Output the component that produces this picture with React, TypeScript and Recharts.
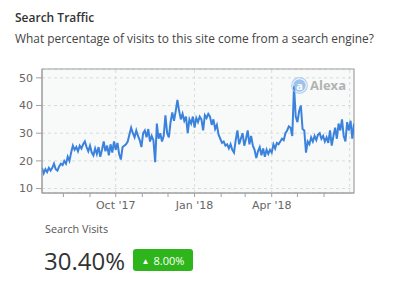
import React from 'react';
import { LineChart, Line, XAxis, YAxis, CartesianGrid, ReferenceLine, ReferenceArea } from 'recharts';

// Day numbers are counted from 2017-07-01 (day 0); one sample every 2 days starting 2017-07-07.
const START_DAY = 6;
const STEP_DAYS = 2;

// Search share (%), one value per 2 days
const searchShare: number[] = [
  17.5, 15.5, 17, 16, 17.5,
  16.5, 17.5, 19, 17, 16.5,
  18, 19, 18.5, 20, 19,
  21.5, 20, 23, 25.5, 24,
  25, 23.5, 25.5, 24.5, 26,
  27, 25, 23.5, 25.5, 23,
  22, 24.5, 22.5, 25, 21.5,
  24, 27, 23.5, 25.5, 22,
  26, 23, 27, 24, 26.5,
  22.5, 20.5, 25, 25.5, 26,
  27, 29.5, 32, 30, 28.5,
  31, 29, 27.5, 25, 30,
  31, 28.5, 31.5, 27, 29,
  27.5, 19.5, 33.5, 28, 30,
  27, 29, 36.5, 30, 28.5,
  34, 37.5, 34.5, 38, 42,
  38, 35, 37, 34.5, 36,
  30, 35, 33.5, 36, 32,
  35.5, 34, 36, 35, 31,
  36.5, 35.5, 37, 36, 33,
  35, 31.5, 33, 29.5, 28,
  26.5, 27, 25.5, 26, 24.5,
  26, 24, 23, 27.5, 31,
  26, 28, 30, 25.5, 28,
  31, 26, 29, 25.5, 24,
  21, 23.5, 25, 22, 24.5,
  21.5, 24, 22.5, 24, 23,
  26, 24.5, 26.5, 26, 27,
  28, 27.5, 30, 31, 32.5,
  32, 29, 47, 36, 34,
  38, 40, 31.5, 31, 23,
  27, 26, 28.5, 27, 29,
  27.5, 29.5, 30, 28, 29,
  27, 28.5, 26.5, 31, 25.5,
  29, 32, 28, 33.5, 31,
  35, 29, 27, 34, 31,
  34.5, 28, 33.5,
];

// Month starts (days since 2017-07-01) used as x ticks
const monthTicks: number[] = [31, 62, 92, 123, 153, 184, 215, 243, 274, 304, 335];
const quarterDays: number[] = [92, 184, 274, 365];
const quarterLabels: Record<number, string> = { 92: "Oct '17", 184: "Jan '18", 274: "Apr '18" };
const yTicks: number[] = [10, 20, 30, 40, 50];

const data = searchShare.map((v, i) => ({ day: START_DAY + i * STEP_DAYS, v }));

const X_MIN = 6;
const X_MAX = 370;
const Y_MIN = 8.4;
const Y_MAX = 53.2;

const font = '"Open Sans", "Noto Sans", sans-serif';
const axisFont = '"DejaVu Sans", Verdana, sans-serif';

export default function App() {
  return (
    <div style={{ position: 'absolute', left: 0, top: 0, width: 403, height: 282, background: '#fff', fontFamily: font }}>
      <div style={{ position: 'absolute', left: 15, top: 9, fontSize: 12, fontWeight: 600, color: '#333', whiteSpace: 'nowrap' }}>Search Traffic</div>
      <div style={{ position: 'absolute', left: 15, top: 30, fontSize: 11.9, color: '#444', whiteSpace: 'nowrap' }}>
        What percentage of visits to this site come from a search engine?
      </div>
      <div style={{ position: 'absolute', left: 0, top: 0 }}>
        <LineChart width={403} height={282} data={data} margin={{ top: 69, right: 49, bottom: 59, left: 0 }}>
          <CartesianGrid vertical={false} stroke="#dadada" strokeDasharray="3 3" fill="#f8fafa" fillOpacity={1} />
          {quarterDays.map((d) => (
            <ReferenceLine key={d} x={d} stroke="#dadada" strokeDasharray="3 3" ifOverflow="extendDomain" />
          ))}
          <XAxis
            dataKey="day"
            type="number"
            domain={[X_MIN, X_MAX]}
            ticks={monthTicks}
            tickFormatter={(d: number) => quarterLabels[d] || ''}
            interval={0}
            height={30}
            tickSize={4}
            tickMargin={4}
            stroke="#a0a0a0"
            tick={{ fill: '#666', fontSize: 11, fontFamily: axisFont }}
            allowDataOverflow
          />
          <YAxis
            type="number"
            domain={[Y_MIN, Y_MAX]}
            ticks={yTicks}
            interval={0}
            width={42}
            tickSize={6}
            tickMargin={3}
            stroke="#a0a0a0"
            tick={{ fill: '#666', fontSize: 11, fontFamily: axisFont }}
            allowDataOverflow
          />
          <ReferenceArea x1={X_MIN} x2={X_MAX} y1={Y_MIN} y2={Y_MAX} fill="none" stroke="#a0a0a0" strokeWidth={1.2} />
          <Line type="linear" dataKey="v" stroke="#3b82dc" strokeWidth={2} dot={false} isAnimationActive={false} />
        </LineChart>
      </div>
      <div style={{ position: 'absolute', left: 291, top: 76, display: 'flex', alignItems: 'center', opacity: 0.75 }}>
        <svg width={17} height={17}>
          <circle cx={8.5} cy={8.5} r={7.8} fill="none" stroke="#9cc3ee" strokeWidth={1.2} />
          <circle cx={8.5} cy={8.5} r={6.2} fill="#7fb0e8" />
          <text x={8.5} y={12.5} textAnchor="middle" fontSize={11} fontWeight={700} fill="#fff" fontFamily={font}>a</text>
        </svg>
        <span style={{ marginLeft: 2, fontSize: 13, fontWeight: 700, color: '#9a9a9a', fontFamily: font }}>Alexa</span>
      </div>
      <div style={{ position: 'absolute', left: 45, top: 221, fontSize: 10.8, color: '#555' }}>Search Visits</div>
      <div style={{ position: 'absolute', left: 44, top: 246, fontSize: 24, color: '#333', lineHeight: '30px' }}>30.40%</div>
      <div
        style={{
          position: 'absolute', left: 133, top: 249, width: 60, height: 22, background: '#2db51b', borderRadius: 3,
          color: '#fff', fontSize: 11, display: 'flex', alignItems: 'center', justifyContent: 'center', gap: 4,
        }}
      >
        <span style={{ fontSize: 8 }}>▲</span>
        <span>8.00%</span>
      </div>
    </div>
  );
}
